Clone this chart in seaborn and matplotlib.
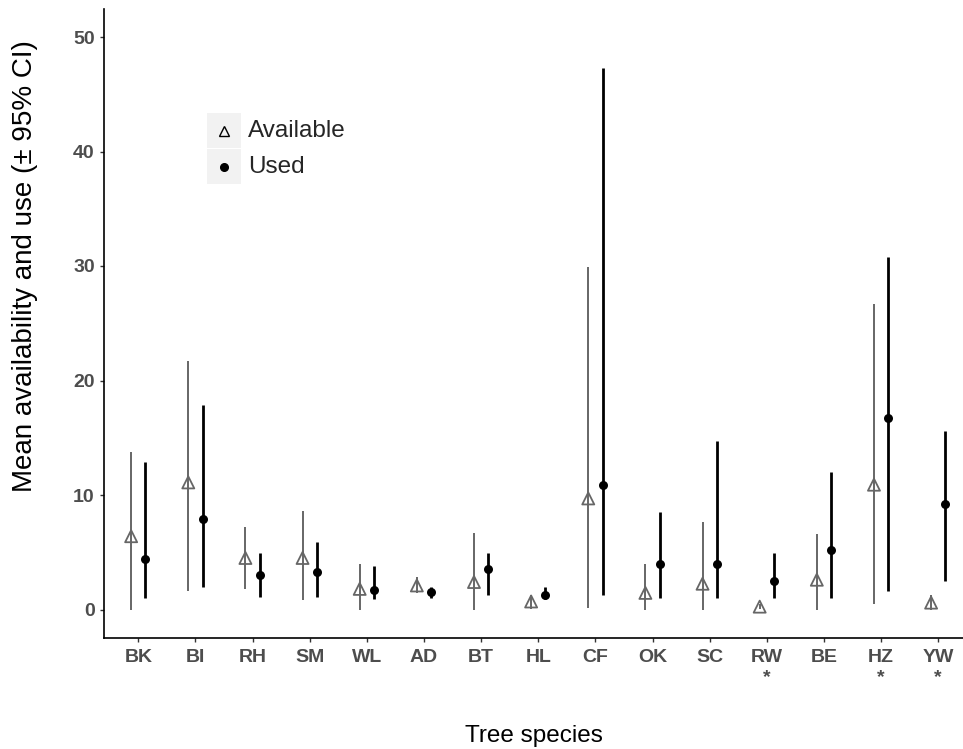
import numpy as np
import pandas as pd
import matplotlib
matplotlib.use("Agg")
import matplotlib.pyplot as plt
from matplotlib.patches import Rectangle
from matplotlib.lines import Line2D
import seaborn as sns

# ---------------- data ----------------
species = ["BK", "BI", "RH", "SM", "WL", "AD", "BT", "HL", "CF", "OK", "SC", "RW", "BE", "HZ", "YW"]
significant = ["RW", "HZ", "YW"]

avail_mean = [6.4, 11.1, 4.5, 4.5, 1.8, 2.1, 2.4, 0.7, 9.7, 1.45, 2.25, 0.25, 2.6, 10.9, 0.6]
avail_low = [0.0, 1.6, 1.8, 0.85, 0.0, 1.4, 0.0, 0.05, 0.15, 0.0, 0.0, 0.05, 0.0, 0.5, 0.0]
avail_high = [13.75, 21.7, 7.2, 8.6, 4.0, 2.8, 6.7, 1.25, 29.9, 4.0, 7.65, 0.45, 6.6, 26.65, 1.25]

used_mean = [4.45, 7.9, 3.0, 3.25, 1.7, 1.5, 3.5, 1.25, 10.85, 4.0, 4.0, 2.5, 5.2, 16.7, 9.2]
used_low = [0.98, 2.0, 1.05, 1.05, 0.95, 1.0, 1.25, 0.9, 1.3, 1.0, 1.0, 1.0, 1.0, 1.6, 2.5]
used_high = [12.85, 17.85, 4.95, 5.9, 3.8, 2.0, 4.9, 1.95, 47.3, 8.5, 14.75, 4.9, 12.0, 30.8, 15.55]

groups = ["Available", "Used"]
y_ticks = [0, 10, 20, 30, 40, 50]
x_title = "Tree species"
y_title = "Mean availability and use (\u00b1 95% CI)"

# ---------------- styling ----------------
sns.set_style("white")
plt.rcParams["font.family"] = ["Liberation Sans", "DejaVu Sans"]

W, H = 963, 749
fig = plt.figure(figsize=(W / 100, H / 100), dpi=100)

def fx(px):
    return px / W

def fy(py):
    return 1 - py / H

# axes: left spine at x=104, bottom spine at y=638, top at y=9
n = len(species)
unit = 57.14
x_left = 104
x_right = x_left + (n - 1 + 1.2) * unit
ax = fig.add_axes([fx(x_left), fy(638), (x_right - x_left) / W, (638 - 9) / H])

dodge = 0.125
idx = np.arange(n)
df = pd.DataFrame({
    "species": species * 2,
    "group": [groups[0]] * n + [groups[1]] * n,
    "xpos": np.concatenate([idx - dodge, idx + dodge]),
    "mean": avail_mean + used_mean,
    "low": avail_low + used_low,
    "high": avail_high + used_high,
})

col_avail = "#666666"
col_used = "#000000"

da = df[df.group == "Available"]
du = df[df.group == "Used"]

# error bars
ax.vlines(da["xpos"], da["low"], da["high"], colors=col_avail, linewidth=1.4, zorder=2)
ax.vlines(du["xpos"], du["low"], du["high"], colors=col_used, linewidth=2.0, zorder=2)

# points
sns.scatterplot(data=da, x="xpos", y="mean", marker="^", s=75, ax=ax,
                legend=False, zorder=3)
coll = ax.collections[-1]
coll.set_facecolor("none")
coll.set_edgecolor(col_avail)
coll.set_linewidth(1.3)

sns.scatterplot(data=du, x="xpos", y="mean", marker="o", s=42, color=col_used,
                linewidth=0, ax=ax, legend=False, zorder=3)

# scales
ax.set_xlim(-0.6, n - 1 + 0.6)
ax.set_ylim(-(638 - 609.5) / 11.45, (609.5 - 9) / 11.45)
ax.set_yticks(y_ticks)
ax.set_yticklabels([str(t) for t in y_ticks])
ax.set_xticks(idx)
ax.set_xticklabels([s + ("\n*" if s in significant else "") for s in species],
                   linespacing=1.2)

for lab in ax.get_xticklabels() + ax.get_yticklabels():
    lab.set_fontweight("bold")
    lab.set_color("#4D4D4D")
    lab.set_fontsize(14)
for lab in ax.get_xticklabels():
    lab.set_verticalalignment("top")

ax.tick_params(axis="both", which="major", length=3.2, width=1.0, color="#333333",
               direction="out", bottom=True, left=True)
ax.tick_params(axis="x", pad=5)
ax.tick_params(axis="y", pad=3.5)

ax.set_xlabel("")
ax.set_ylabel("")
for side in ["top", "right"]:
    ax.spines[side].set_visible(False)
for side in ["left", "bottom"]:
    ax.spines[side].set_color("black")
    ax.spines[side].set_linewidth(1.2)

# axis titles
fig.text(fx((104 + 963) / 2), fy(736), x_title, ha="center", va="center",
         fontsize=17.5, color="black")
fig.text(fx(25), fy(266), y_title, ha="center", va="center",
         rotation=90, fontsize=20, color="black")

# legend (manual, ggplot-like keys with grey background)
key_boxes = [(207, 113, 34, 35), (207, 149, 34, 35)]
for (bx, by, bw, bh) in key_boxes:
    fig.add_artist(Rectangle((fx(bx), fy(by + bh)), bw / W, bh / H,
                             transform=fig.transFigure, facecolor="#F2F2F2",
                             edgecolor="none", zorder=1))
fig.add_artist(Line2D([fx(224)], [fy(130.5)], marker="^", markersize=7,
                      markerfacecolor="none", markeredgecolor="black",
                      markeredgewidth=1.0, linestyle="none",
                      transform=fig.transFigure, zorder=2))
fig.add_artist(Line2D([fx(224)], [fy(166.5)], marker="o", markersize=5.5,
                      markerfacecolor="black", markeredgecolor="black",
                      linestyle="none", transform=fig.transFigure, zorder=2))
fig.text(fx(248), fy(131), groups[0], ha="left", va="center", fontsize=17.5)
fig.text(fx(248), fy(167), groups[1], ha="left", va="center", fontsize=17.5)

fig.savefig("out.png", dpi=100)
